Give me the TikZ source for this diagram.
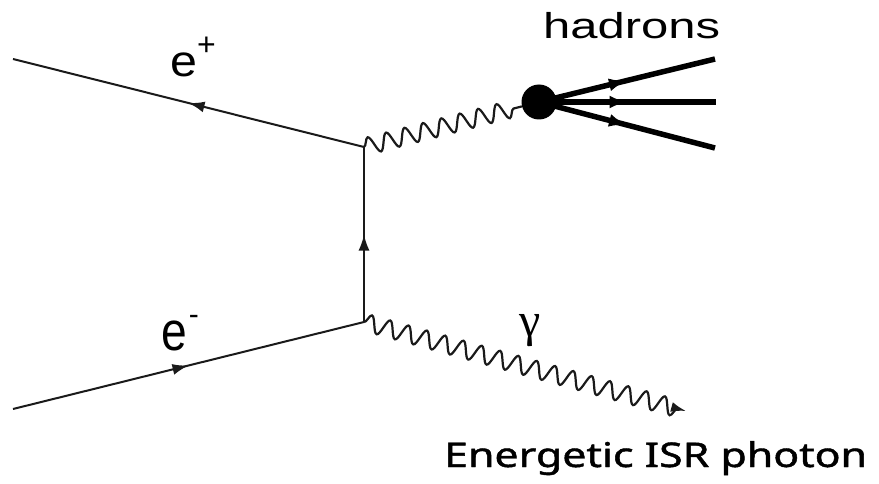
\documentclass[tikz,border=0pt]{standalone}
\usepackage{fontspec}
\usepackage{xcolor}
\usetikzlibrary{
  arrows.meta, decorations.markings, decorations.pathmorphing
}
\newfontfamily\helvfont{Liberation Sans}
\newfontfamily\timesfont{Liberation Serif}
\newfontfamily\notefont[FakeBold=1.2]{Noto Sans}
\definecolor{lineblack}{HTML}{1A1A1A}

\begin{document}
\begin{tikzpicture}[
    x=1pt, y=-1pt,
    fermion/.style={line width=2pt, draw=lineblack, postaction={decorate},
        decoration={markings, mark=at position 0.5 with {\arrow{Latex[length=16pt,width=11pt]}}}},
    hadron/.style={line width=5.5pt, draw=black, postaction={decorate},
        decoration={markings, mark=at position 0.5 with {\arrow{Latex[length=18pt,width=13pt]}}}},
    photon/.style={line width=2.2pt, draw=lineblack, decorate,
        decoration={snake, amplitude=8.5pt, segment length=19pt, post length=6pt}},
    lbl/.style={inner sep=0pt, font=\helvfont\fontsize{44}{48}\selectfont},
]
    \useasboundingbox (0,0) rectangle (879,484);

    % Vertices
    \coordinate (vtop) at (364,147);
    \coordinate (vbot) at (364,322);
    \coordinate (eout) at (13,59);
    \coordinate (ein) at (13,409);
    \coordinate (gend) at (686,411);
    \node[circle, fill=black, inner sep=0pt, minimum size=35pt] (blob) at (539,102) {};
    \coordinate (h1) at (715,59);
    \coordinate (h2) at (716,102);
    \coordinate (h3) at (715,148);

    % Fermion lines
    \draw[fermion] (vtop) -- (eout);
    \draw[fermion] (ein) -- (vbot);
    \draw[fermion] (vbot) -- (vtop);

    % Photons
    \draw[photon] (vtop) -- (blob);
    \draw[photon, -{Latex[length=15pt,width=10pt]}] (vbot) -- (gend);

    % Hadrons
    \draw[hadron] (blob.center) -- (h1);
    \draw[hadron] (blob.center) -- (h2);
    \draw[hadron] (blob.center) -- (h3);

    % Labels
    \node[lbl, anchor=base west] (epos) at (170,77) {\scalebox{1.1}[1]{e}\raisebox{21pt}{\fontsize{32}{34}\selectfont +}};
    \node[lbl, anchor=base west] (eneg) at (161,350) {\scalebox{1.05}[1.25]{e}\hspace{2pt}\raisebox{26pt}{\fontsize{30}{32}\selectfont -}};
    \node[lbl, anchor=base west, font=\helvfont\fontsize{36}{40}\selectfont] (had) at (543,39) {\scalebox{1.36}[1]{hadrons}};
    \node[lbl, anchor=base, font=\timesfont\fontsize{48}{52}\selectfont] (gam) at (530,336) {γ};
    \node[lbl, anchor=base west, font=\notefont\fontsize{34}{38}\selectfont] (isr) at (444,467) {\scalebox{1.26}[1]{Energetic ISR photon}};
\end{tikzpicture}
\end{document}
